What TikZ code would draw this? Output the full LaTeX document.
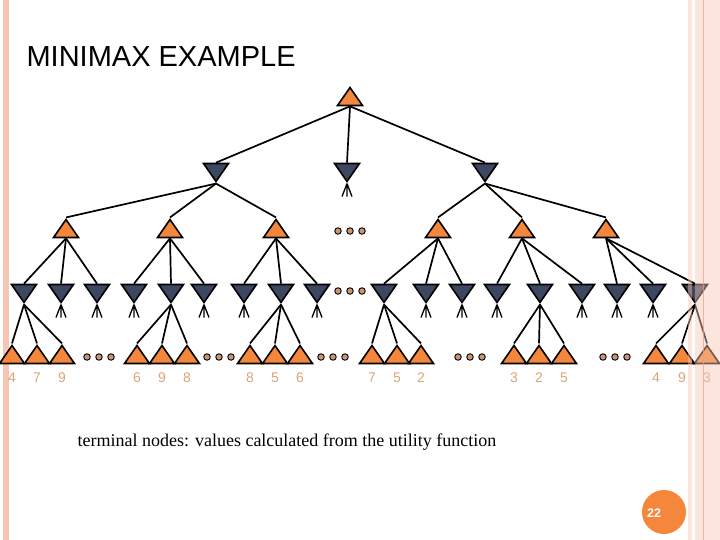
\documentclass[tikz,border=0pt]{standalone}
\usepackage{fontspec}
\setmainfont{Liberation Serif}
\newfontfamily\arialfont{Liberation Sans}
\usetikzlibrary{shapes.geometric, positioning}

\definecolor{maxorange}{HTML}{F5873C}
\definecolor{minslate}{HTML}{3E4761}
\definecolor{dotbrown}{HTML}{C99672}
\definecolor{valtan}{HTML}{D9A57A}
\definecolor{borderpink}{HTML}{F7C6B2}
\definecolor{borderline}{HTML}{E9A07E}

\tikzset{
  maxnode/.style={isosceles triangle, isosceles triangle stretches, shape border rotate=90,
    minimum width=25pt, minimum height=18pt, inner sep=0pt, draw, line width=1.6pt, fill=maxorange},
  minnode/.style={maxnode, shape border rotate=270, fill=minslate},
  edge/.style={line width=1.7pt},
  dot/.style={circle, draw, line width=0.9pt, fill=dotbrown, inner sep=0pt, minimum size=6.5pt},
  value/.style={font=\arialfont\fontsize{14}{16}\selectfont, text=valtan},
}

\begin{document}
\begin{tikzpicture}[x=1pt, y=-1pt]
    \useasboundingbox (0,0) rectangle (720,540);
    \fill[borderpink] (3,0) rectangle (9,540);
    \node[anchor=west, font=\arialfont\fontsize{29}{34}\selectfont] (title) at (23,57) {MINIMAX EXAMPLE};

    % root and the min layer below it
    \node[maxnode] (r) at (350,99) {};
    \node[minnode] (a) at (216,170) {};
    \node[minnode] (b) at (347,170) {};
    \node[minnode] (c) at (485,170) {};

    % max layer
    \foreach \n/\x in {a1/66, a2/170, a3/276, c1/438, c2/522, c3/606}
        \node[maxnode] (\n) at (\x,231) {};

    % min layer
    \foreach \n/\x in {a1a/24, a1b/61, a1c/97, a2a/134, a2b/171, a2c/204,
                       a3a/244, a3b/281, a3c/317, c1a/384, c1b/426, c1c/462,
                       c2a/497, c2b/540, c2c/582, c3a/617, c3b/653, c3c/695}
        \node[minnode] (\n) at (\x,291) {};

    % terminal nodes
    \foreach \n/\x/\v in {a1a1/12/4, a1a2/37/7, a1a3/62/9,
                          a2b1/137/6, a2b2/162/9, a2b3/187/8,
                          a3b1/250/8, a3b2/275/5, a3b3/300/6,
                          c1a1/372/7, c1a2/397/5, c1a3/421/2,
                          c2b1/514/3, c2b2/539/2, c2b3/564/5,
                          c3c1/656/4, c3c2/682/9, c3c3/707/3}
    {
        \node[maxnode] (\n) at (\x,357) {};
        \node[value] (v\n) at (\x,378) {\v};
    }

    \foreach \p/\c in {r/a, r/b, r/c, a/a1, a/a2, a/a3, c/c1, c/c2, c/c3,
                       a1/a1a, a1/a1b, a1/a1c, a2/a2a, a2/a2b, a2/a2c,
                       a3/a3a, a3/a3b, a3/a3c, c1/c1a, c1/c1b, c1/c1c,
                       c2/c2a, c2/c2b, c2/c2c, c3/c3a, c3/c3b, c3/c3c,
                       a1a/a1a1, a1a/a1a2, a1a/a1a3, a2b/a2b1, a2b/a2b2, a2b/a2b3,
                       a3b/a3b1, a3b/a3b2, a3b/a3b3, c1a/c1a1, c1a/c1a2, c1a/c1a3,
                       c2b/c2b1, c2b/c2b2, c2b/c2b3, c3c/c3c1, c3c/c3c2, c3c/c3c3}
        \draw[edge] (\p.south) -- (\c.north);

    % unexpanded min nodes
    \foreach \m in {b, a1b, a1c, a2a, a2c, a3a, a3c, c1b, c1c, c2a, c2c, c3a, c3b}
        \draw[line width=1.3pt] (\m.south) -- ++(-5,13) (\m.south) -- ++(0,13) (\m.south) -- ++(5,13);

    % more nodes
    \foreach \x/\y [count=\i] in {338/231, 350/231, 362/231, 338/291, 350/291, 362/291,
                                  87/357, 99/357, 111/357, 207/357, 219/357, 231/357,
                                  321/357, 333/357, 345/357, 458/357, 470/357, 482/357,
                                  603/357, 615/357, 627/357}
        \node[dot] (dot\i) at (\x,\y) {};

    \node[anchor=west, font=\fontsize{18}{21}\selectfont] (note) at (74,442)
        {terminal nodes: values calculated from the utility function};

    \node[circle, fill=maxorange, minimum size=44pt, inner sep=0pt] (page) at (664,512) {};
    \node[font=\arialfont\bfseries\fontsize{12.5}{14}\selectfont, text=white] (pagenum) at (654,513) {22};

    \fill[borderpink, opacity=0.45] (688,0) rectangle (692,540);
    \fill[borderpink, opacity=0.45] (695,0) rectangle (720,540);
    \draw[borderline, opacity=0.7, line width=1pt] (703,0) -- (703,540);
\end{tikzpicture}
\end{document}
